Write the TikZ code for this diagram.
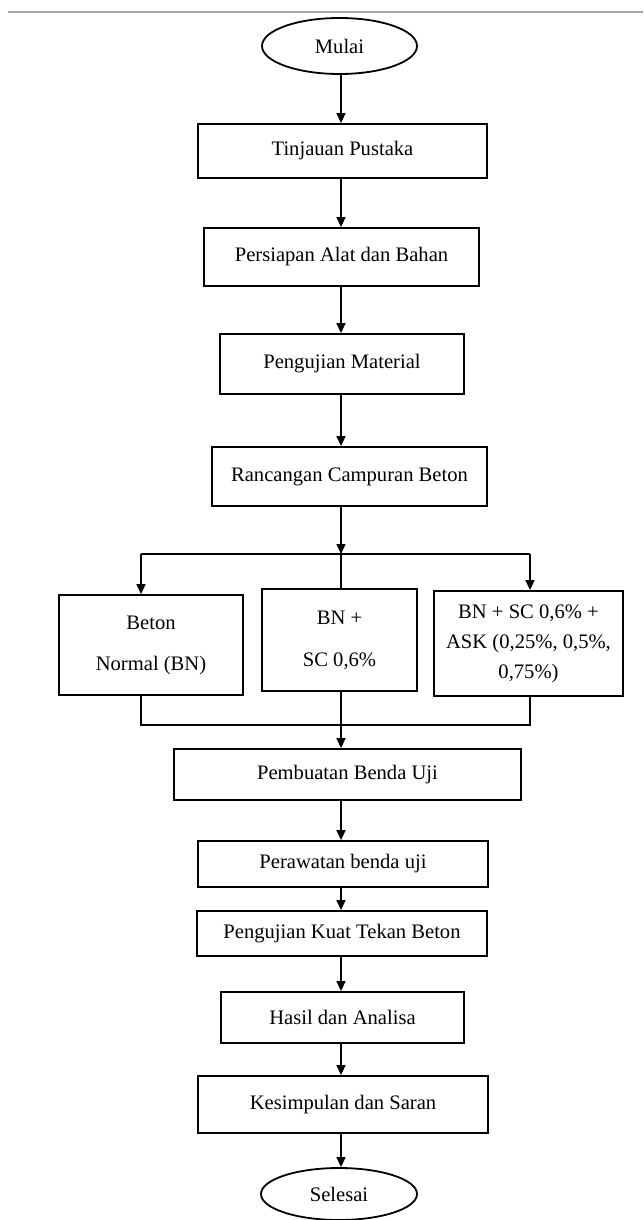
\documentclass[tikz,border=0pt]{standalone}
\usepackage{fontspec}
\setmainfont{Liberation Serif}
\usetikzlibrary{shapes.geometric,arrows.meta}
\tikzset{
  box/.style={draw, rectangle, line width=0.9pt, inner sep=0pt, align=center,
    font=\fontsize{10.3}{12}\selectfont},
  oval/.style={draw, ellipse, line width=0.9pt, inner sep=0pt,
    font=\fontsize{10.3}{12}\selectfont},
  arr/.style={-{Triangle[length=5pt,width=4.5pt]}, line width=0.7pt},
  link/.style={line width=0.7pt}
}
\begin{document}
\begin{tikzpicture}[x=0.5pt,y=-0.5pt]
  \useasboundingbox (0,0) rectangle (643,1220);
  % Grey rule along the top of the page
  \draw[gray!70, line width=1pt] (8,12) -- (643,12);
  % Main column, top part
  \node[oval, minimum width=77.5pt, minimum height=28pt] (mulai) at (339.5,46) {Mulai};
  \node[box, minimum width=144.5pt, minimum height=27pt] (tinjauan) at (342.5,151) {Tinjauan Pustaka};
  \node[box, minimum width=137.5pt, minimum height=29pt] (persiapan) at (341.5,257) {Persiapan Alat dan Bahan};
  \node[box, minimum width=122pt, minimum height=30pt] (material) at (342,364) {Pengujian Material};
  \node[box, minimum width=137.5pt, minimum height=29.5pt] (rancangan) at (349.5,476.5) {Rancangan Campuran Beton};
  % The three mixes
  \node[box, minimum width=92pt, minimum height=50pt, font=\fontsize{10.3}{20.5}\selectfont]
    (beton) at (151,645) {Beton\\Normal (BN)};
  \node[box, minimum width=77.5pt, minimum height=51pt, font=\fontsize{10.3}{21}\selectfont]
    (bnsc) at (339.5,640) {BN +\\SC 0,6\%};
  \node[box, minimum width=94.5pt, minimum height=52.5pt, font=\fontsize{10.3}{15}\selectfont]
    (bnscask) at (528.5,643.5) {BN + SC 0,6\% +\\ASK (0,25\%, 0,5\%,\\0,75\%)};
  % Main column, bottom part
  \node[box, minimum width=173.5pt, minimum height=25.5pt] (pembuatan) at (347.5,774.5) {Pembuatan Benda Uji};
  \node[box, minimum width=145pt, minimum height=23pt] (perawatan) at (343,864) {Perawatan benda uji};
  \node[box, minimum width=145pt, minimum height=22.5pt] (kuat) at (342,933.5) {Pengujian Kuat Tekan Beton};
  \node[box, minimum width=121.5pt, minimum height=25.5pt] (hasil) at (342.5,1017.5) {Hasil dan Analisa};
  \node[box, minimum width=145pt, minimum height=28.5pt] (kesimpulan) at (343,1104.5) {Kesimpulan dan Saran};
  \node[oval, minimum width=78pt, minimum height=26pt] (selesai) at (339,1194) {Selesai};
  % Branch and merge points
  \coordinate (axis) at (341,0);
  \coordinate (split) at (341,554);
  \coordinate (brL) at (141,554);
  \coordinate (brR) at (530,554);
  \coordinate (mgL) at (141,725);
  \coordinate (mgR) at (530,725);
  % Straight arrows down the column
  \foreach \a/\b in {mulai/tinjauan, tinjauan/persiapan, persiapan/material, material/rancangan,
      pembuatan/perawatan, perawatan/kuat, kuat/hasil, hasil/kesimpulan, kesimpulan/selesai} {
    \draw[arr] (axis |- \a.south) -- (axis |- \b.north);
  }
  \draw[arr] (axis |- rancangan.south) -- (split);
  % Split into the three mixes
  \draw[link] (brL) -- (brR);
  \draw[arr] (brL) -- (brL |- beton.north);
  \draw[link] (split) -- (split |- bnsc.north);
  \draw[arr] (brR) -- (brR |- bnscask.north);
  % Merge back
  \draw[link] (mgL |- beton.south) -- (mgL) -- (mgR) -- (mgR |- bnscask.south);
  \draw[arr] (axis |- bnsc.south) -- (axis |- pembuatan.north);
\end{tikzpicture}
\end{document}
